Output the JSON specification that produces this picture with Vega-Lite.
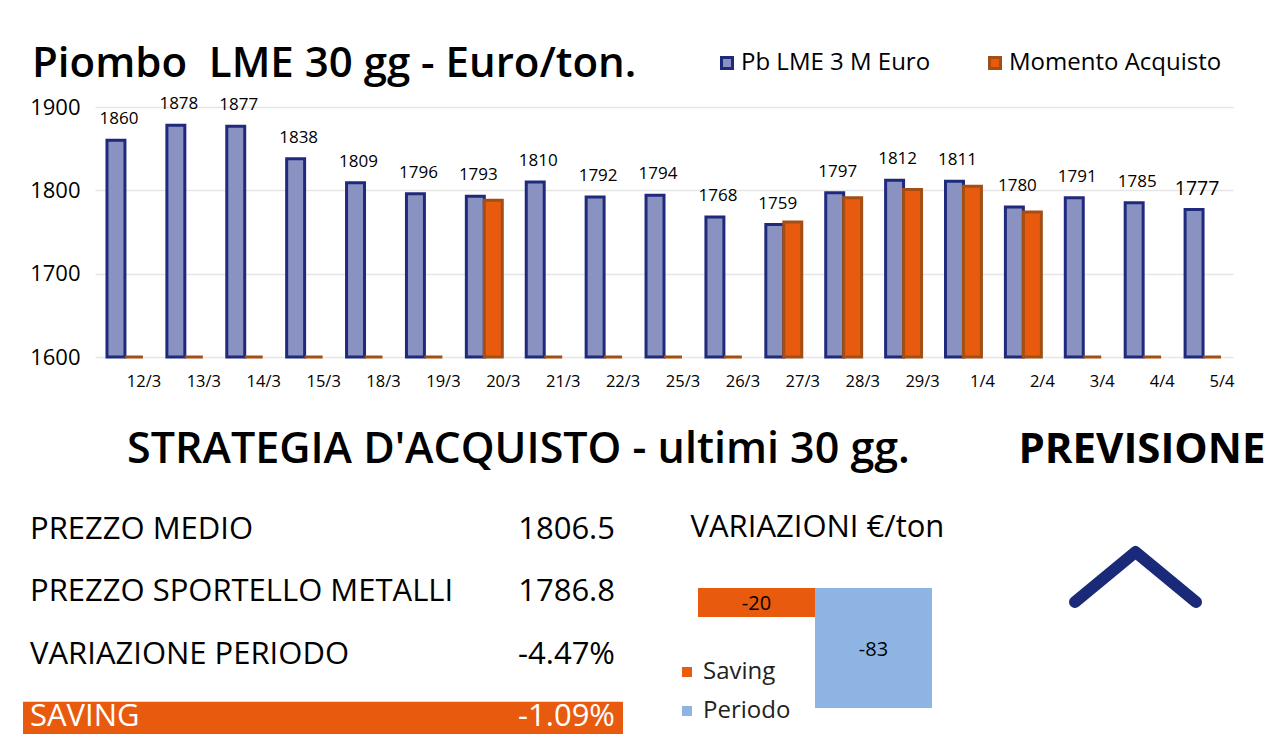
{
  "$schema": "https://vega.github.io/schema/vega-lite/v6.json",
  "background": "white",
  "padding": {"left": 23, "top": 43, "right": 0, "bottom": 0},
  "bounds": "flush",
  "spacing": 138,
  "datasets": {
    "prezzi": [
      {"data": "12/3", "serie": "Pb LME 3 M Euro", "valore": 1860}, {"data": "12/3", "serie": "Momento Acquisto", "valore": 0},
      {"data": "13/3", "serie": "Pb LME 3 M Euro", "valore": 1878}, {"data": "13/3", "serie": "Momento Acquisto", "valore": 0},
      {"data": "14/3", "serie": "Pb LME 3 M Euro", "valore": 1877}, {"data": "14/3", "serie": "Momento Acquisto", "valore": 0},
      {"data": "15/3", "serie": "Pb LME 3 M Euro", "valore": 1838}, {"data": "15/3", "serie": "Momento Acquisto", "valore": 0},
      {"data": "18/3", "serie": "Pb LME 3 M Euro", "valore": 1809}, {"data": "18/3", "serie": "Momento Acquisto", "valore": 0},
      {"data": "19/3", "serie": "Pb LME 3 M Euro", "valore": 1796}, {"data": "19/3", "serie": "Momento Acquisto", "valore": 0},
      {"data": "20/3", "serie": "Pb LME 3 M Euro", "valore": 1793}, {"data": "20/3", "serie": "Momento Acquisto", "valore": 1788},
      {"data": "21/3", "serie": "Pb LME 3 M Euro", "valore": 1810}, {"data": "21/3", "serie": "Momento Acquisto", "valore": 0},
      {"data": "22/3", "serie": "Pb LME 3 M Euro", "valore": 1792}, {"data": "22/3", "serie": "Momento Acquisto", "valore": 0},
      {"data": "25/3", "serie": "Pb LME 3 M Euro", "valore": 1794}, {"data": "25/3", "serie": "Momento Acquisto", "valore": 0},
      {"data": "26/3", "serie": "Pb LME 3 M Euro", "valore": 1768}, {"data": "26/3", "serie": "Momento Acquisto", "valore": 0},
      {"data": "27/3", "serie": "Pb LME 3 M Euro", "valore": 1759}, {"data": "27/3", "serie": "Momento Acquisto", "valore": 1762},
      {"data": "28/3", "serie": "Pb LME 3 M Euro", "valore": 1797}, {"data": "28/3", "serie": "Momento Acquisto", "valore": 1791},
      {"data": "29/3", "serie": "Pb LME 3 M Euro", "valore": 1812}, {"data": "29/3", "serie": "Momento Acquisto", "valore": 1801},
      {"data": "1/4", "serie": "Pb LME 3 M Euro", "valore": 1811}, {"data": "1/4", "serie": "Momento Acquisto", "valore": 1805},
      {"data": "2/4", "serie": "Pb LME 3 M Euro", "valore": 1780}, {"data": "2/4", "serie": "Momento Acquisto", "valore": 1774},
      {"data": "3/4", "serie": "Pb LME 3 M Euro", "valore": 1791}, {"data": "3/4", "serie": "Momento Acquisto", "valore": 0},
      {"data": "4/4", "serie": "Pb LME 3 M Euro", "valore": 1785}, {"data": "4/4", "serie": "Momento Acquisto", "valore": 0},
      {"data": "5/4", "serie": "Pb LME 3 M Euro", "valore": 1777}, {"data": "5/4", "serie": "Momento Acquisto", "valore": 0}
    ],
    "tabella": [
      {"voce": "PREZZO MEDIO", "valore": "1806.5"},
      {"voce": "PREZZO SPORTELLO METALLI", "valore": "1786.8"},
      {"voce": "VARIAZIONE PERIODO", "valore": "-4.47%"},
      {"voce": "SAVING", "valore": "-1.09%"}
    ],
    "variazioni": [
      {"voce": "Saving", "valore": -20},
      {"voce": "Periodo", "valore": -83}
    ],
    "freccia": [
      {"px": -1, "py": 0},
      {"px": 0, "py": 1},
      {"px": 1, "py": 0}
    ]
  },
  "vconcat": [
    {
      "width": 1138,
      "height": 250,
      "title": {
        "text": "Piombo\u00a0 LME 30 gg - Euro/ton.",
        "anchor": "start",
        "frame": "group",
        "dx": -63,
        "dy": 78,
        "offset": 10,
        "fontSize": 42,
        "font": "Open Sans",
        "fontWeight": 600,
        "color": "black",
        "baseline": "alphabetic"
      },
      "data": {"name": "prezzi"},
      "layer": [
        {
          "mark": {"type": "bar", "strokeWidth": 3},
          "encoding": {
            "x": {
              "field": "data", "type": "nominal", "sort": null,
              "scale": {"paddingInner": 0.4, "paddingOuter": 0.2},
              "axis": {"title": null, "labelAngle": 0, "labelFont": "Open Sans", "labelFontSize": 16.5, "labelColor": "black", "labelPadding": 16, "labelOffset": 19, "ticks": false, "tickSize": 0, "domain": false, "grid": false}
            },
            "xOffset": {"field": "serie", "type": "nominal", "sort": ["Pb LME 3 M Euro", "Momento Acquisto"], "scale": {"paddingInner": 0}},
            "y": {
              "field": "valore", "type": "quantitative",
              "scale": {"domain": [1600, 1900], "clamp": true, "nice": false, "zero": false},
              "axis": {"title": null, "values": [1600, 1700, 1800, 1900], "format": "d", "labelFont": "Open Sans", "labelFontSize": 22, "labelColor": "black", "labelPadding": 15, "ticks": false, "tickSize": 0, "domain": false, "grid": true, "gridColor": "#e6e6e6", "gridWidth": 1.5}
            },
            "color": {
              "field": "serie", "type": "nominal",
              "scale": {"domain": ["Pb LME 3 M Euro", "Momento Acquisto"], "range": ["#8a92c2", "#e85a0d"]},
              "legend": {"orient": "none", "direction": "horizontal", "legendX": 620, "legendY": -56, "title": null, "padding": 0, "symbolType": "square", "symbolSize": 121, "symbolStrokeWidth": 3, "labelFont": "Open Sans", "labelFontSize": 24, "labelColor": "black", "labelOffset": 2, "labelLimit": 400, "columnPadding": 52}
            },
            "stroke": {
              "field": "serie", "type": "nominal",
              "scale": {"domain": ["Pb LME 3 M Euro", "Momento Acquisto"], "range": ["#1f2a7c", "#a34f14"]},
              "legend": {"orient": "none", "direction": "horizontal", "legendX": 620, "legendY": -56, "title": null, "padding": 0, "symbolType": "square", "symbolSize": 121, "symbolStrokeWidth": 3, "labelFont": "Open Sans", "labelFontSize": 24, "labelColor": "black", "labelOffset": 2, "labelLimit": 400, "columnPadding": 52}
            }
          }
        },
        {
          "transform": [{"filter": "datum.serie === 'Pb LME 3 M Euro'"}],
          "mark": {"type": "text", "font": "Open Sans", "color": "black", "baseline": "middle", "dy": -21, "dx": 3},
          "encoding": {
            "x": {"field": "data", "type": "nominal", "sort": null},
            "xOffset": {"field": "serie", "type": "nominal", "sort": ["Pb LME 3 M Euro", "Momento Acquisto"]},
            "y": {"field": "valore", "type": "quantitative"},
            "text": {"field": "valore", "type": "quantitative", "format": "d"},
            "size": {"condition": {"test": "datum.data === '5/4'", "value": 19.5}, "value": 17}
          }
        }
      ]
    },
    {
      "width": 1101,
      "height": 250,
      "resolve": {"scale": {"x": "independent", "y": "independent", "color": "independent"}, "axis": {"x": "independent", "y": "independent"}},
      "layer": [
        {
          "data": {"name": "tabella"},
          "transform": [{"filter": "datum.voce === 'SAVING'"}],
          "mark": {"type": "rect", "color": "#e85a0d"},
          "encoding": {
            "x": {
              "datum": 0, "type": "quantitative",
              "scale": {"domain": [0.12, 1.955], "nice": false, "zero": false},
              "axis": {"orient": "top", "title": "STRATEGIA D'ACQUISTO - ultimi 30 gg.", "labels": false, "ticks": false, "domain": false, "grid": false, "titleX": 423, "titleY": -33, "titleAlign": "center", "titleBaseline": "alphabetic", "titleAnchor": null, "titleFont": "Open Sans", "titleFontSize": 43, "titleFontWeight": 600, "titleColor": "black"}
            },
            "x2": {"datum": 1},
            "y": {
              "field": "voce", "type": "nominal",
              "scale": {"domain": ["PREZZO MEDIO", "PREZZO SPORTELLO METALLI", "VARIAZIONE PERIODO", "SAVING"], "paddingInner": 0.5, "paddingOuter": 0.194, "align": 0.556},
              "axis": null
            }
          }
        },
        {
          "data": {"name": "tabella"},
          "mark": {"type": "text", "font": "Open Sans", "fontSize": 31, "fontWeight": "normal", "align": "left", "baseline": "middle", "dx": 7},
          "encoding": {
            "x": {"datum": 0, "type": "quantitative", "scale": {"domain": [0.12, 1.955], "nice": false, "zero": false}, "axis": null},
            "y": {
              "field": "voce", "type": "nominal",
              "scale": {"domain": ["PREZZO MEDIO", "PREZZO SPORTELLO METALLI", "VARIAZIONE PERIODO", "SAVING"], "paddingInner": 0.5, "paddingOuter": 0.194, "align": 0.556},
              "axis": null
            },
            "text": {"field": "voce"},
            "color": {"condition": {"test": "datum.voce === 'SAVING'", "value": "white"}, "value": "black"}
          }
        },
        {
          "data": {"name": "tabella"},
          "mark": {"type": "text", "font": "Open Sans", "fontSize": 31, "fontWeight": "normal", "align": "right", "baseline": "middle", "dx": -8},
          "encoding": {
            "x": {"datum": 1, "type": "quantitative", "scale": {"domain": [0.12, 1.955], "nice": false, "zero": false}, "axis": null},
            "y": {
              "field": "voce", "type": "nominal",
              "scale": {"domain": ["PREZZO MEDIO", "PREZZO SPORTELLO METALLI", "VARIAZIONE PERIODO", "SAVING"], "paddingInner": 0.5, "paddingOuter": 0.194, "align": 0.556},
              "axis": null
            },
            "text": {"field": "valore"},
            "color": {"condition": {"test": "datum.voce === 'SAVING'", "value": "white"}, "value": "black"}
          }
        },
        {
          "data": {"name": "variazioni"},
          "mark": {"type": "bar"},
          "encoding": {
            "x": {
              "field": "voce", "type": "nominal",
              "scale": {"type": "band", "domain": ["Saving", "Periodo"], "range": [603, 837], "paddingInner": 0, "paddingOuter": 0},
              "axis": null
            },
            "y": {
              "field": "valore", "type": "quantitative",
              "scale": {"domain": [-108.59, 64.32], "nice": false, "zero": false},
              "axis": {"orient": "left", "title": "VARIAZIONI €/ton", "labels": false, "ticks": false, "domain": false, "grid": false, "titleAngle": 0, "titleX": 595, "titleY": 41, "titleAlign": "left", "titleBaseline": "alphabetic", "titleAnchor": null, "titleFont": "Open Sans", "titleFontSize": 31, "titleFontWeight": "normal", "titleColor": "black"}
            },
            "color": {
              "field": "voce", "type": "nominal",
              "scale": {"domain": ["Saving", "Periodo"], "range": ["#e85a0d", "#8db4e2"]},
              "legend": {"orient": "none", "direction": "vertical", "legendX": 580, "legendY": 165, "title": null, "padding": 0, "symbolType": "square", "symbolSize": 100, "symbolStrokeWidth": 0, "labelFont": "Open Sans", "labelFontSize": 24, "labelColor": "#222222", "labelOffset": 4, "rowPadding": 15}
            }
          }
        },
        {
          "data": {"name": "variazioni"},
          "mark": {"type": "text", "font": "Open Sans", "fontSize": 20, "color": "black", "baseline": "middle", "dy": 2},
          "encoding": {
            "x": {
              "field": "voce", "type": "nominal",
              "scale": {"type": "band", "domain": ["Saving", "Periodo"], "range": [603, 837], "paddingInner": 0, "paddingOuter": 0},
              "axis": null
            },
            "y": {
              "field": "valore", "type": "quantitative",
              "scale": {"domain": [-217.19, 128.64], "nice": false, "zero": false},
              "axis": null
            },
            "text": {"field": "valore", "type": "nominal"}
          }
        },
        {
          "data": {"name": "freccia"},
          "mark": {"type": "line", "color": "#1b2a78", "strokeWidth": 12, "strokeCap": "round", "strokeJoin": "round"},
          "encoding": {
            "x": {"field": "px", "type": "quantitative", "scale": {"domain": [-17.198, 1], "nice": false, "zero": false}, "axis": null},
            "y": {
              "field": "py", "type": "quantitative",
              "scale": {"domain": [-2.86, 2.14], "nice": false, "zero": false},
              "axis": {"orient": "right", "title": "PREVISIONE", "labels": false, "ticks": false, "domain": false, "grid": false, "titleAngle": 0, "titleX": -178, "titleY": -33, "titleAlign": "left", "titleBaseline": "alphabetic", "titleAnchor": null, "titleFont": "Open Sans", "titleFontSize": 42, "titleFontWeight": 700, "titleColor": "black"}
            }
          }
        }
      ]
    }
  ],
  "resolve": {
    "scale": {"color": "independent", "stroke": "independent", "size": "independent"},
    "legend": {"color": "independent", "stroke": "independent"}
  },
  "config": {
    "view": {"stroke": null},
    "font": "Open Sans",
    "text": {"font": "Open Sans"}
  }
}
